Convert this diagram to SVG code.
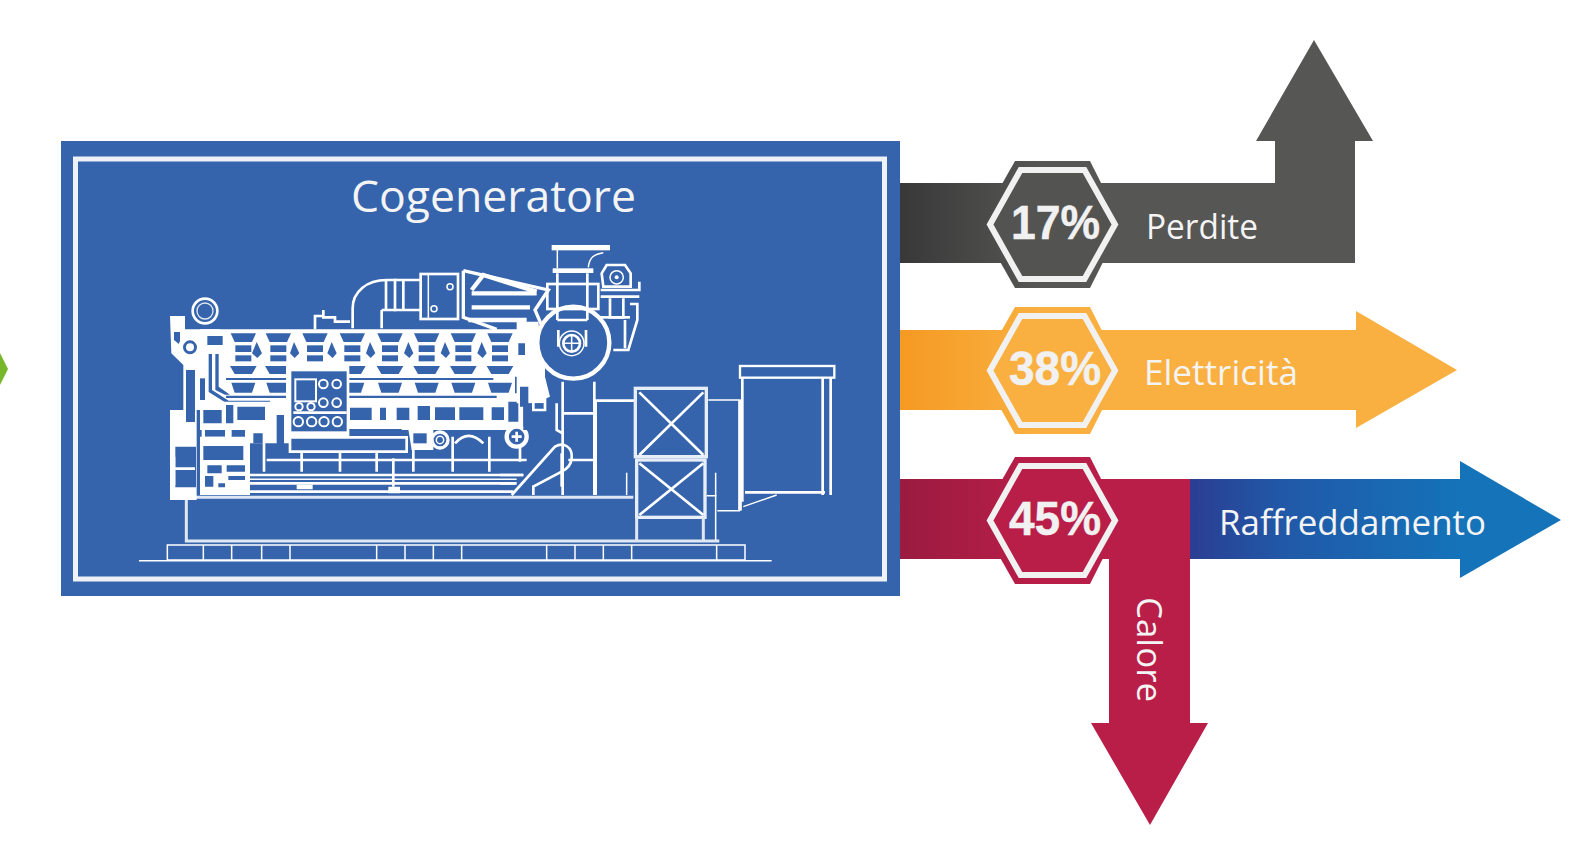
<svg xmlns="http://www.w3.org/2000/svg" width="1593" height="855" viewBox="0 0 1593 855">
<style>
.lbl{font-family:"Open Sans","Liberation Sans",sans-serif;fill:#f4f4f4}
.pct{font-family:"Liberation Sans",Arial,sans-serif;font-weight:700;font-size:49px;fill:#f1f1f1;stroke:#f1f1f1;stroke-width:.5}
.ring{stroke:#f1f1f1;stroke-width:6;stroke-linejoin:miter}
.e{fill:none;stroke:#fff;stroke-width:8}
.t{fill:none;stroke:#fff;stroke-width:4.500}
.m{fill:none;stroke:#dfe7f3;stroke-width:9}
.w{fill:#fff}
.h{fill:#3564ac}
</style>
<defs>
<filter id="soft" x="-2%" y="-2%" width="104%" height="104%"><feGaussianBlur stdDeviation="0.45"/></filter>
<linearGradient id="gDark" gradientUnits="userSpaceOnUse" x1="900" y1="0" x2="1040" y2="0"><stop offset="0" stop-color="#383838"/><stop offset="1" stop-color="#565655"/></linearGradient>
<linearGradient id="gOrange" gradientUnits="userSpaceOnUse" x1="900" y1="0" x2="1040" y2="0"><stop offset="0" stop-color="#f59a23"/><stop offset="1" stop-color="#f9b040"/></linearGradient>
<linearGradient id="gRed" gradientUnits="userSpaceOnUse" x1="900" y1="0" x2="1040" y2="0"><stop offset="0" stop-color="#9a1b40"/><stop offset="1" stop-color="#b91e48"/></linearGradient>
<linearGradient id="gBlue" gradientUnits="userSpaceOnUse" x1="1190" y1="0" x2="1460" y2="0"><stop offset="0" stop-color="#2b3e92"/><stop offset="0.35" stop-color="#2159a8"/><stop offset="1" stop-color="#1473b9"/></linearGradient>
<g id="cyl">
<path class="h" d="M-38 310H38L26 336H-26Z"/>
<rect class="h" x="-24" y="346" width="48" height="20"/>
<rect class="h" x="-24" y="376" width="48" height="18"/>
<path class="h" d="M-40 408H40L26 432H-26Z"/>
<path class="h" d="M-36 458H36L26 488H-26Z"/>
</g>
</defs>
<rect width="1593" height="855" fill="#fff"/>

<g id="input-marker"><polygon points="0,353 8,369 0,385" fill="#76b82a"/></g>

<g id="connectors">
<path id="arrow-perdite" fill="url(#gDark)" d="M900 183H1275V141H1256L1314 40L1373 141H1355V263H900Z"/>
<path id="arrow-elettricita" fill="url(#gOrange)" d="M900 330H1356V311L1457 370L1356 428V410H900Z"/>
<path id="arrow-raffreddamento" fill="url(#gBlue)" d="M1190 479H1460V461L1561 520L1460 578V559H1190Z"/>
<path id="arrow-calore" fill="url(#gRed)" d="M900 479H1190V723H1208L1150 825L1091 723H1109V559H900Z"/>
</g>

<g id="cogeneratore">
<rect x="61" y="141" width="839" height="455" fill="#3564ac"/>
<rect x="75.500" y="159" width="809" height="420" fill="none" stroke="#eef2f8" stroke-width="5"/>
<text class="lbl" x="351" y="212" font-size="44" textLength="285" lengthAdjust="spacingAndGlyphs">Cogeneratore</text>
<g id="engine" filter="url(#soft)" transform="translate(150 230) scale(.33333)">
<!-- base -->
<path class="t" d="M-33 992H1865"/>
<rect class="t" x="52" y="945" width="1733" height="45"/>
<path class="t" d="M160 945V990M245 945V990M335 945V990M420 945V990M680 945V990M765 945V990M850 945V990M935 945V990M1190 945V990M1275 945V990M1360 945V990M1445 945V990M1700 945V990"/>
<path class="m" d="M109 810V933H1708"/>
<path class="m" d="M60 802H1450"/>
<!-- left end -->
<path class="w" d="M60 258H105V298H210V400H150V540H140V810H60V540H100V405L64 370Z"/>
<path class="h" d="M72 306H90V345L72 330ZM108 420H135V576H108ZM172 318H218V345H172ZM76 650H138V772H76ZM150 345H160V368H150Z"/>
<path class="e" d="M72 680V765M72 716H135"/>
<circle fill="#3564ac" stroke="#fff" stroke-width="8" cx="165" cy="243" r="37"/>
<circle fill="none" stroke="#dfe7f3" stroke-width="4" cx="165" cy="243" r="24"/>
<circle fill="#3564ac" stroke="#fff" stroke-width="14" cx="120" cy="352" r="28"/>
<circle class="w" cx="120" cy="352" r="12"/>
<!-- top band of block -->
<path class="w" d="M150 298H1185V520H150Z"/>
<use href="#cyl" x="280"/><use href="#cyl" x="385"/><use href="#cyl" x="495"/><use href="#cyl" x="607"/>
<use href="#cyl" x="720"/><use href="#cyl" x="830"/><use href="#cyl" x="940"/><use href="#cyl" x="1050"/>
<path class="h" d="M172 318H218V345H172ZM1125 320H1145V360H1125ZM1095 440H1130V490H1095Z"/>
<path class="h" d="M228 444H1030V450H228ZM228 497H420V504H228ZM595 497H1040V504H595Z"/>
<path class="h" d="M176 372H186V480L236 512H360V520H230L176 486ZM196 372H206V470L240 494H225L196 480Z"/>
<path class="h" d="M150 445H165V510H150Z"/>
<path class="h" d="M320 336L336 370L322 384L306 370ZM432 336L448 370L434 384L420 370ZM545 336L560 370L548 384L532 370ZM660 336L676 370L662 384L648 370ZM775 336L790 370L778 384L762 370ZM885 336L900 370L888 384L872 370ZM995 336L1010 370L998 384L982 370Z"/>
<!-- mid block -->
<path class="w" d="M150 515H1120V600H150Z"/>
<path class="h" d="M262 530H345V570H262ZM600 533H665V570H600ZM740 533H778V570H740ZM803 528H840V570H803ZM855 532H915V570H855ZM928 532H1000V570H928ZM1025 532H1062V570H1025ZM690 533H708V570H690ZM1075 515H1105V575H1075Z"/>
<path class="h" d="M595 597H755V614H595ZM160 540H215V580H160ZM228 525H250V580H228Z"/>
<path class="w" d="M155 590H420V640H155Z"/>
<path class="h" d="M165 600H225V620H165ZM245 600H285V640H245ZM310 610H340V640H310ZM380 555H402V655H380Z"/>
<!-- panel -->
<rect class="w" x="408" y="405" width="190" height="218"/>
<rect class="h" x="424" y="424" width="166" height="180"/>
<rect x="436" y="448" width="62" height="66" fill="#3564ac" stroke="#fff" stroke-width="6"/>
<g fill="#3564ac" stroke="#fff" stroke-width="6">
<circle cx="520" cy="462" r="13"/><circle cx="560" cy="462" r="13"/>
<circle cx="520" cy="518" r="13"/><circle cx="560" cy="518" r="13"/>
<circle cx="447" cy="530" r="11"/><circle cx="483" cy="530" r="11"/>
<circle cx="445" cy="575" r="14"/><circle cx="485" cy="575" r="14"/><circle cx="522" cy="575" r="14"/><circle cx="562" cy="575" r="14"/>
</g>
<path class="e" d="M430 548H590"/>
<!-- sump -->
<path class="e" d="M420 622H770V665H420ZM300 735H1120M300 760H1095M300 785H1090"/>
<path class="t" d="M300 748H1100"/>
<path class="e" d="M342 600V725M350 690H1130M455 668V725M570 668V725M680 668V725M790 640V725M908 620V725M1018 620V725M730 685V770"/>
<path class="w" d="M440 764H488V778H440ZM715 770H750V790H715Z"/>
<!-- lower left -->
<path class="w" d="M150 620H300V795H150Z"/>
<path class="h" d="M160 648H280V690H160ZM172 706H215V730H172ZM230 706H285V725H230ZM165 738H190V770H165ZM235 738H285V750H235ZM205 760H225V772H205Z"/>
<!-- accessories -->
<path class="w" d="M775 598H850V660H785Z"/>
<path class="h" d="M790 610H830V640H790Z"/>
<circle fill="#3564ac" stroke="#fff" stroke-width="10" cx="870" cy="630" r="24"/><circle class="t" cx="870" cy="630" r="11"/>
<path class="e" d="M915 640Q955 595 1000 640"/>
<circle fill="#3564ac" stroke="#fff" stroke-width="13" cx="1100" cy="620" r="30"/>
<path class="e" d="M1085 620H1115M1100 605V635M1110 650V695"/>
<!-- turbo and intake -->
<path class="e" d="M608 295V235C608 185 650 150 710 150H815"/>
<path class="e" d="M695 240H815M695 240V295"/>
<path class="e" d="M708 150V240M735 146V244M760 150V240"/>
<rect class="e" x="812" y="132" width="112" height="135"/>
<path class="t" d="M835 130V265"/>
<circle class="t" cx="900" cy="170" r="9"/><circle class="t" cx="852" cy="236" r="9"/>
<path fill="none" stroke="#fff" stroke-width="10" d="M940 122V262L1040 298M940 122L1195 180L1155 240L1180 298"/>
<path fill="none" stroke="#fff" stroke-width="13" d="M965 180L1000 135L1160 185M965 190H1160M965 232H1140M955 270H1130"/>
<path class="e" d="M495 298V258H520V240V262H555V275H600"/>
<!-- flywheel housing, zoom2 coordinates shifted by 1050 -->
<g transform="translate(1050 0)">
<path class="w" d="M50 275H115L135 440L150 500L105 520H50Z"/>
<path class="h" d="M55 340H75V375H55ZM60 470H85V530H60Z"/>
<path class="h" d="M70 520H150V600H70Z"/>
<circle fill="#3564ac" stroke="#fff" stroke-width="13" cx="220" cy="338" r="108"/>
<path class="e" d="M172 130V270M262 130V270M172 270H262"/>
<path class="e" d="M175 300V350M258 300V350"/>
<circle class="t" cx="215" cy="340" r="37"/>
<circle class="e" cx="215" cy="340" r="25"/>
<path class="t" d="M215 315V365M190 340H240"/>
<rect class="w" x="155" y="45" width="175" height="16"/>
<path class="t" d="M172 60V115M265 112C268 80 285 72 310 68"/>
<rect class="w" x="158" y="115" width="122" height="14"/>
<rect class="e" x="142" y="162" width="153" height="75"/>
<path class="e" d="M305 130L320 105H375L392 130V170H310Z"/>
<circle class="t" cx="350" cy="142" r="20"/><circle class="w" cx="350" cy="142" r="6"/>
<path class="e" d="M302 180H418V155M302 200H418M330 205V262H370V205"/>
<path class="e" d="M390 222H412V270L385 360H340M375 270V355"/>
<path class="e" d="M300 262H390"/>
<path class="e" d="M100 470V540H135V470"/>
<path class="e" d="M188 455V795M283 455V795M188 550H283M205 690H280"/>
<path class="e" d="M170 520V600L188 610"/>
<path class="e" d="M35 795L165 650C190 635 218 650 215 685C213 710 195 720 185 725L100 770V795"/>
<path class="e" d="M185 670V770"/>
<path class="e" d="M0 735H70M0 760H50"/>
<!-- generator -->
<path class="e" d="M283 512H402M287 512V795"/>
<rect fill="none" stroke="#e8eef7" stroke-width="10" x="406" y="475" width="213" height="205"/>
<rect fill="none" stroke="#e8eef7" stroke-width="10" x="410" y="690" width="205" height="172"/>
<path class="e" d="M418 487L610 675M610 487L418 675M418 700L610 855M610 700L418 855"/>
<path class="m" d="M410 862V930M610 862V930"/>
<path class="t" d="M380 728V795M647 728V930M620 797H650"/>
<path class="t" d="M625 510H716M652 842H720"/>
<path fill="none" stroke="#fff" stroke-width="11" d="M720 508V842"/>
<rect fill="none" stroke="#fff" stroke-width="7" x="720" y="408" width="283" height="35"/>
<path class="e" d="M727 443V815M992 443V795M968 443V795M735 787H975"/>
<path class="t" d="M730 830L830 795"/>
</g>
</g>
</g>

<g id="pct-17">
<polygon points="1015,161 1090,161 1122,224.500 1090,288 1015,288 979,224.500" fill="url(#gDark)"/>
<polygon class="ring" points="1020.500,170 1084.500,170 1115,224.500 1084.500,279 1020.500,279 990,224.500" fill="#535352"/>
<text class="pct" x="1011" y="239" textLength="89" lengthAdjust="spacingAndGlyphs">17%</text>
<text class="lbl" x="1146" y="239" font-size="35" textLength="112" lengthAdjust="spacingAndGlyphs">Perdite</text>
</g>
<g id="pct-38">
<polygon points="1015,307 1090,307 1122,370.500 1090,434 1015,434 979,370.500" fill="url(#gOrange)"/>
<polygon class="ring" points="1020.500,316 1084.500,316 1115,370.500 1084.500,425 1020.500,425 990,370.500" fill="#f9b040"/>
<text class="pct" x="1009" y="385" textLength="92" lengthAdjust="spacingAndGlyphs">38%</text>
<text class="lbl" x="1144" y="385" font-size="35" textLength="154" lengthAdjust="spacingAndGlyphs">Elettricità</text>
</g>
<g id="pct-45">
<polygon points="1015,457 1090,457 1122,520.500 1090,584 1015,584 979,520.500" fill="url(#gRed)"/>
<polygon class="ring" points="1020.500,466 1084.500,466 1115,520.500 1084.500,575 1020.500,575 990,520.500" fill="#b91e48"/>
<text class="pct" x="1009" y="535" textLength="92" lengthAdjust="spacingAndGlyphs">45%</text>
</g>
<text class="lbl" x="1219" y="535" font-size="35" textLength="267" lengthAdjust="spacingAndGlyphs">Raffreddamento</text>
<text class="lbl" transform="translate(1137 597) rotate(90)" font-size="35" textLength="105" lengthAdjust="spacingAndGlyphs">Calore</text>
</svg>
